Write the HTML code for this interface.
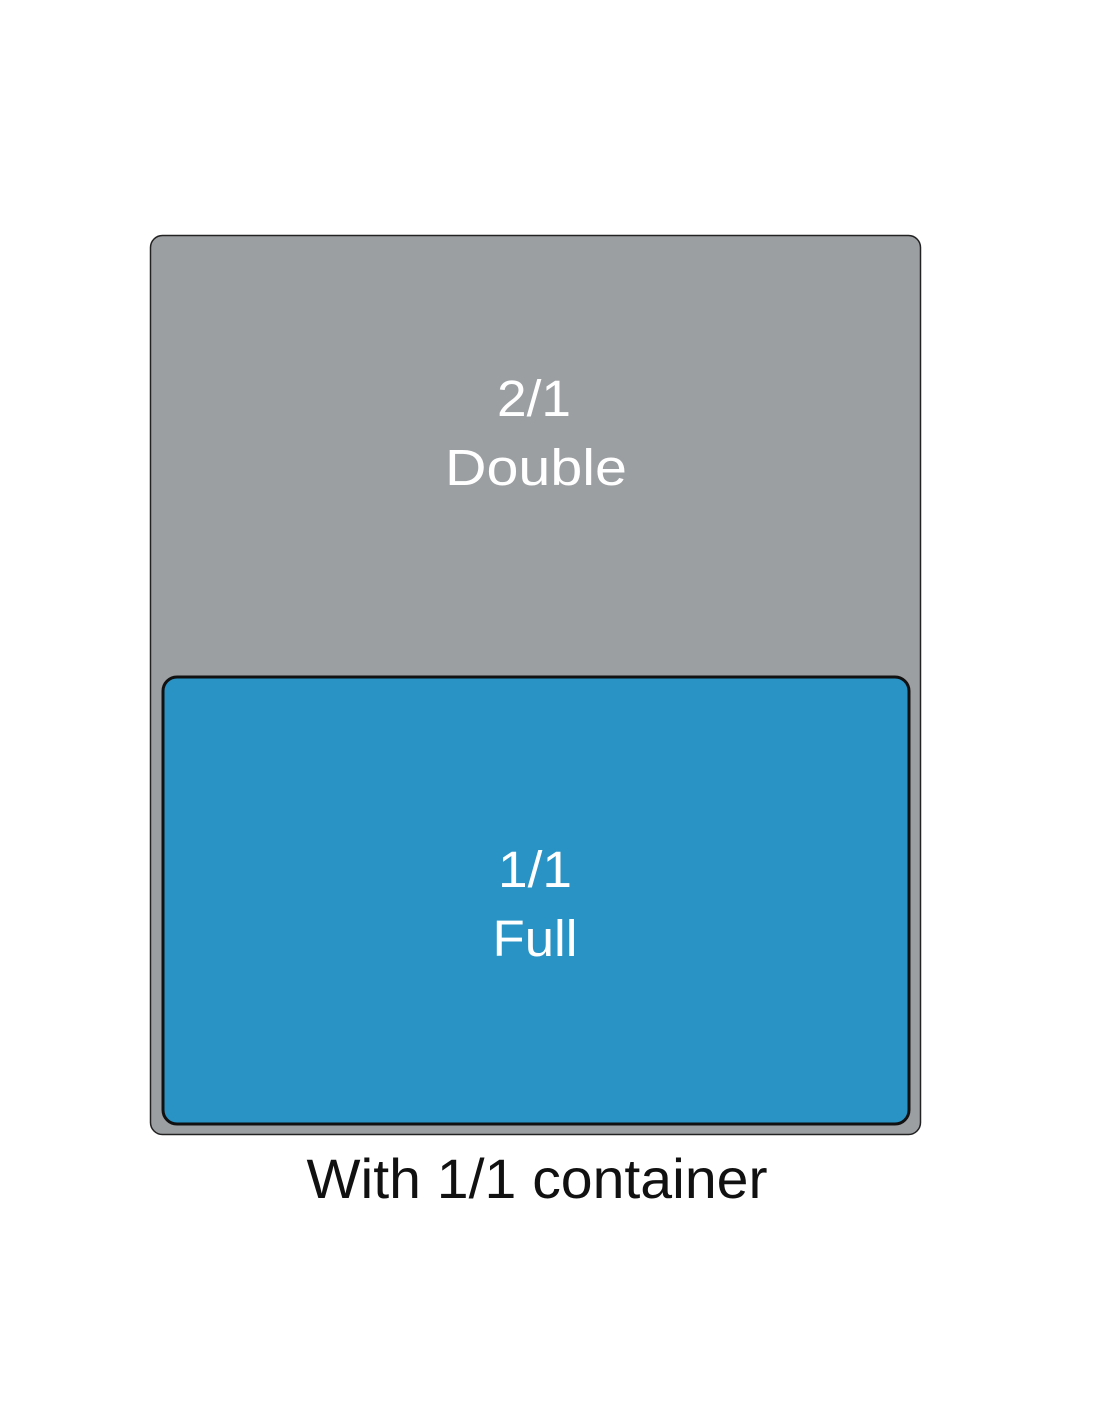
<!DOCTYPE html>
<html><head><meta charset="utf-8"><style>html,body{margin:0;padding:0;background:#fff}svg{display:block}</style></head>
<body>
<svg width="1100" height="1422" viewBox="0 0 1100 1422" xmlns="http://www.w3.org/2000/svg">
<rect x="150.5" y="235.5" width="770" height="899" rx="12" ry="12" fill="#9c9fa2" stroke="#222" stroke-width="1.5"/>
<rect x="163" y="677" width="746" height="447" rx="14" ry="14" fill="#2993c5" stroke="#111" stroke-width="3"/>
<g font-family="Liberation Sans, sans-serif" fill="#fff" text-anchor="middle" font-size="51">
<text x="534" y="416" textLength="74" lengthAdjust="spacingAndGlyphs">2/1</text>
<text x="536" y="485" textLength="182" lengthAdjust="spacingAndGlyphs">Double</text>
<text x="535" y="887" textLength="74" lengthAdjust="spacingAndGlyphs">1/1</text>
<text x="535" y="956" textLength="85" lengthAdjust="spacingAndGlyphs">Full</text>
</g>
<text x="537" y="1198" font-family="Liberation Sans, sans-serif" font-size="56" fill="#111" text-anchor="middle" textLength="461" lengthAdjust="spacingAndGlyphs">With 1/1 container</text>
</svg>
</body></html>
